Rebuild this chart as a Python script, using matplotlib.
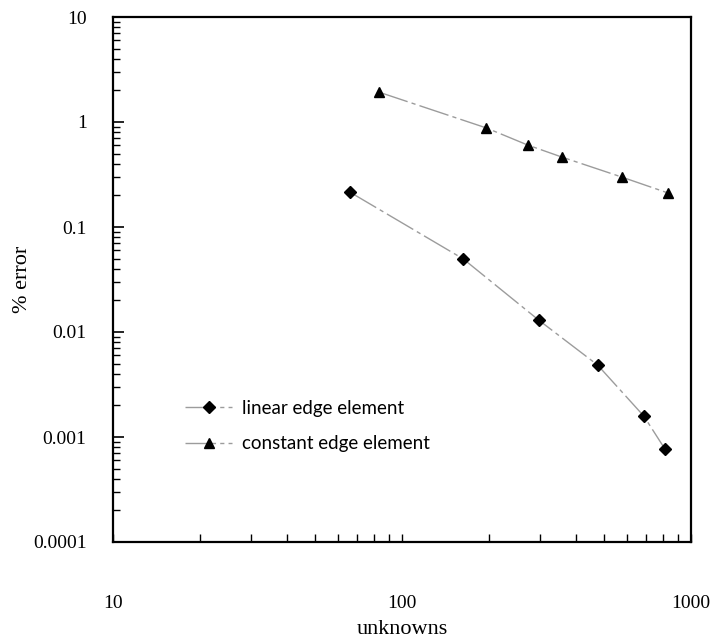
import matplotlib
matplotlib.use('Agg')
import matplotlib.pyplot as plt
from matplotlib.ticker import FixedLocator, FixedFormatter, LogLocator, NullFormatter

# values
linear_unknowns = [66, 163, 297, 475, 687, 812]
linear_error = [0.215, 0.0496, 0.0130, 0.00485, 0.00158, 0.00077]

constant_unknowns = [83, 196, 272, 357, 576, 832]
constant_error = [1.93, 0.877, 0.604, 0.464, 0.299, 0.211]

x_ticks = [10, 100, 1000]
x_tick_labels = ['10', '100', '1000']
y_ticks = [0.0001, 0.001, 0.01, 0.1, 1, 10]
y_tick_labels = ['0.0001', '0.001', '0.01', '0.1', '1', '10']

serif = 'Liberation Serif'
line_style = dict(color='#9c9c9c', linewidth=1.0, linestyle=(0, (22, 3, 3, 3)))

fig = plt.figure(figsize=(7.17, 6.44), dpi=100)
ax = fig.add_axes([113 / 717, 1 - 542 / 644, 578 / 717, 525 / 644])

ax.plot(linear_unknowns, linear_error, marker='D', markersize=6,
        markerfacecolor='black', markeredgecolor='black',
        label='linear edge element', **line_style)
ax.plot(constant_unknowns, constant_error, marker='^', markersize=7,
        markerfacecolor='black', markeredgecolor='black',
        label='constant edge element', **line_style)

ax.set_xscale('log')
ax.set_yscale('log')
ax.set_xlim(10, 1000)
ax.set_ylim(0.0001, 10)

# ticks: only left and bottom, pointing inwards
ax.xaxis.set_major_locator(FixedLocator(x_ticks))
ax.xaxis.set_major_formatter(FixedFormatter(x_tick_labels))
ax.xaxis.set_minor_locator(LogLocator(base=10, subs=range(2, 10)))
ax.xaxis.set_minor_formatter(NullFormatter())
ax.yaxis.set_major_locator(FixedLocator(y_ticks))
ax.yaxis.set_major_formatter(FixedFormatter(y_tick_labels))
ax.yaxis.set_minor_locator(LogLocator(base=10, subs=range(2, 10)))
ax.yaxis.set_minor_formatter(NullFormatter())

ax.tick_params(which='both', direction='in', top=False, right=False, color='black')
ax.tick_params(axis='x', which='major', length=6, width=1.0, pad=38)
ax.tick_params(axis='x', which='minor', length=6, width=1.0)
ax.tick_params(axis='y', which='major', length=8, width=1.2, pad=19)
ax.tick_params(axis='y', which='minor', length=5, width=1.0)

for lbl in ax.get_xticklabels() + ax.get_yticklabels():
    lbl.set_fontfamily(serif)
    lbl.set_fontsize(14)

for side in ['left', 'bottom', 'top', 'right']:
    ax.spines[side].set_linewidth(1.6)

ax.set_xlabel('unknowns', fontfamily=serif, fontsize=16)
ax.xaxis.set_label_coords(0.5, -0.148)
ax.set_ylabel('% error', fontfamily=serif, fontsize=16)
ax.yaxis.set_label_coords(-0.14, 0.5)

ax.legend(loc='upper left', bbox_to_anchor=(0.125, 0.271), frameon=False,
          prop={'family': 'Lato', 'size': 13.5}, handlelength=2.5,
          handletextpad=0.55, labelspacing=1.0, borderpad=0, borderaxespad=0)

fig.savefig('out.png', dpi=100)
